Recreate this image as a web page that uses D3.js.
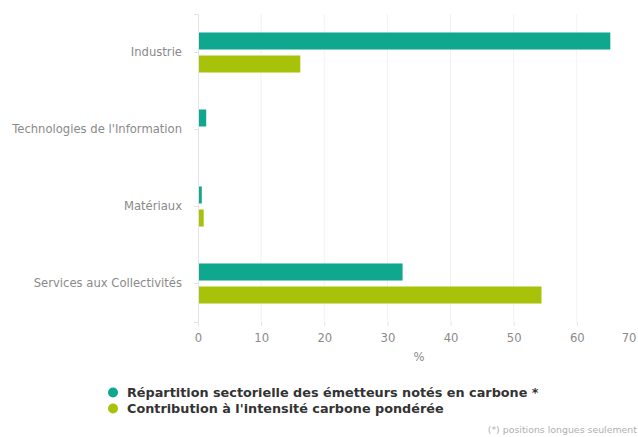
<!DOCTYPE html>
<html>
<head>
<meta charset="utf-8">
<script src="https://cdn.jsdelivr.net/npm/d3@7"></script>
<style>
	body { margin: 0; background: #fff; }
	svg { display: block; font-family: "DejaVu Sans", sans-serif; }
</style>
</head>
<body>
<div id="chart"></div>
<script>
// Data
var categories = ['Industrie', "Technologies de l'Information", 'Matériaux', 'Services aux Collectivités'];
var series_names = ['Répartition sectorielle des émetteurs notés en carbone *', 'Contribution à l\'intensité carbone pondérée'];
var repartition = [65.3, 1.3, 0.6, 32.4];
var contribution = [16.2, 0.1, 0.9, 54.4];
var x_ticks = [0, 10, 20, 30, 40, 50, 60, 70];
var colors = ['#0fa88f', '#a8c20a'];

var total_width = 638;
var total_height = 437;
var margin = {
	top: 14,
	right: -2,
	bottom: 115,
	left: 198
};

var svg = d3.select('#chart')
	.append('svg')
	.attr('width', total_width)
	.attr('height', total_height);

// Scales
var x_scale = d3.scaleLinear().domain([0, 70]).range([margin.left, total_width - margin.right]);
var y_scale = d3.scaleBand().domain(categories).range([margin.top, total_height - margin.bottom]).paddingInner(0.48).paddingOuter(0.24);
var y_sub = d3.scaleBand().domain([0, 1]).range([0, y_scale.bandwidth()]).paddingInner(0.26);

// Grid lines
svg.append('g')
	.selectAll('line')
	.data(x_ticks.slice(1))
	.enter()
	.append('line')
	.attr('x1', function(d) { return x_scale(d); })
	.attr('x2', function(d) { return x_scale(d); })
	.attr('y1', margin.top)
	.attr('y2', total_height - margin.bottom)
	.attr('stroke', '#f2f2f2')
	.attr('stroke-width', 1);

// Bars
var table = categories.map(function(c, i) {
	return [repartition[i], contribution[i]];
});
var groups = svg.append('g')
	.selectAll('g')
	.data(table)
	.enter()
	.append('g')
	.attr('transform', function(d, i) { return 'translate(0,' + y_scale(categories[i]) + ')'; });

groups.selectAll('rect')
	.data(function(d) { return d; })
	.enter()
	.append('rect')
	.attr('x', x_scale(0))
	.attr('y', function(d, j) { return y_sub(j); })
	.attr('width', function(d) { return x_scale(d) - x_scale(0); })
	.attr('height', y_sub.bandwidth())
	.attr('fill', function(d, j) { return colors[j]; });

// Y axis
var y_axis = svg.append('g')
	.attr('transform', 'translate(' + margin.left + ',0)')
	.call(d3.axisLeft(y_scale).tickSize(4).tickPadding(12));
y_axis.select('.domain').attr('stroke', '#e4e4e4');
y_axis.selectAll('.tick line').attr('stroke', '#e4e4e4');
y_axis.selectAll('text')
	.attr('fill', '#8a8a8a')
	.attr('font-size', '11.6px')
	.attr('font-family', '"DejaVu Sans", sans-serif');

// X axis
var x_axis = svg.append('g')
	.attr('transform', 'translate(0,' + (total_height - margin.bottom) + ')')
	.call(d3.axisBottom(x_scale).tickValues(x_ticks).tickSize(4).tickPadding(8));
x_axis.select('.domain').remove();
x_axis.selectAll('.tick line').attr('stroke', '#e4e4e4');
x_axis.selectAll('text')
	.attr('fill', '#8a8a8a')
	.attr('font-size', '11.6px')
	.attr('font-family', '"DejaVu Sans", sans-serif');
// last tick label sits on the right edge, keep it inside
x_axis.selectAll('text')
	.filter(function(d) { return d === 70; })
	.attr('text-anchor', 'end')
	.attr('x', -4);

svg.append('text')
	.attr('x', 419)
	.attr('y', 361)
	.attr('text-anchor', 'middle')
	.attr('fill', '#8a8a8a')
	.attr('font-size', '11.6px')
	.text('%');

// Legend
var legend = svg.append('g')
	.selectAll('g')
	.data(series_names)
	.enter()
	.append('g')
	.attr('transform', function(d, i) { return 'translate(113,' + (397 + i * 16) + ')'; });
legend.append('circle')
	.attr('r', 5)
	.attr('cx', 0)
	.attr('cy', -4.5)
	.attr('fill', function(d, i) { return colors[i]; });
legend.append('text')
	.attr('x', 14)
	.attr('y', 0)
	.attr('fill', '#333')
	.attr('font-size', '12.8px')
	.attr('font-weight', 'bold')
	.text(function(d) { return d; });

// Footnote
svg.append('text')
	.attr('x', 637)
	.attr('y', 433)
	.attr('text-anchor', 'end')
	.attr('fill', '#b0b0b0')
	.attr('font-size', '9.4px')
	.text('(*) positions longues seulement');
</script>
</body>
</html>
